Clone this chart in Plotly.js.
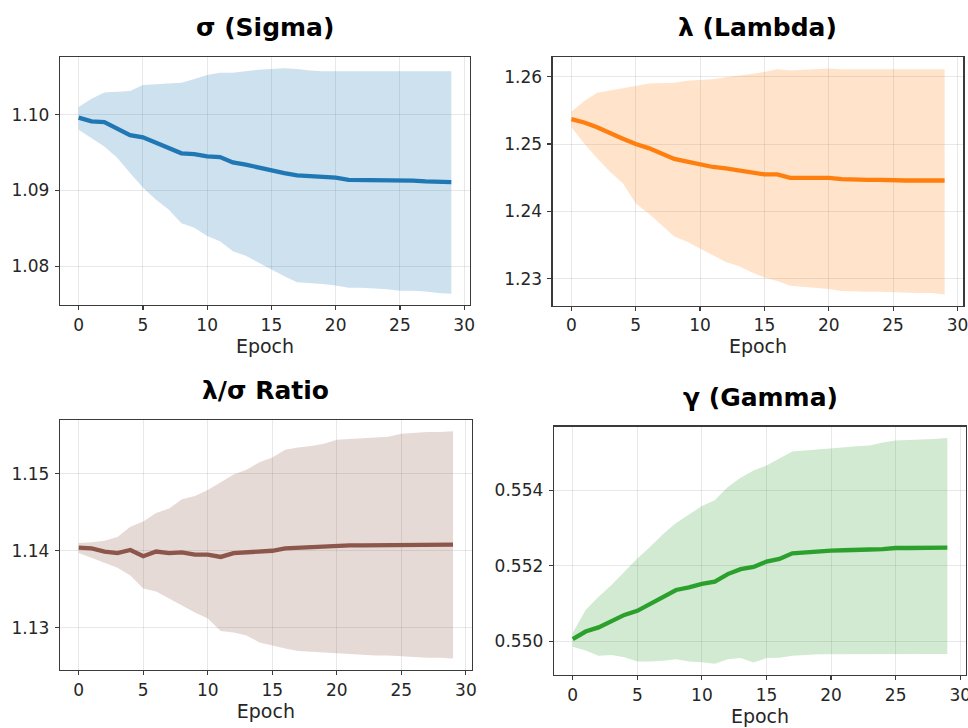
<!DOCTYPE html>
<html>
<head>
<meta charset="utf-8">
<script src="https://cdn.plot.ly/plotly-3.0.1.min.js"></script>
<style>html,body{margin:0;padding:0;background:#fff;}#chart{width:968px;height:728px;}</style>
</head>
<body>
<div id="chart"></div>
<script>
const epochs = Array.from({length: 30}, (_, i) => i);

const sigmaMean = [1.0996,1.0991,1.0990,1.0981,1.0973,1.0970,1.0963,1.0957,1.0949,1.0948,1.0945,1.0944,1.0937,1.0934,1.0930,1.0926,1.0923,1.0920,1.0919,1.0918,1.0917,1.0914,1.0914,1.0914,1.0914,1.0913,1.0913,1.0912,1.0912,1.0911];
const sigmaUpper = [1.1010,1.1021,1.1029,1.1030,1.1031,1.1039,1.1040,1.1041,1.1042,1.1047,1.1052,1.1055,1.1055,1.1057,1.1059,1.1060,1.1061,1.1060,1.1058,1.1057,1.1057,1.1057,1.1057,1.1057,1.1057,1.1057,1.1057,1.1057,1.1057,1.1057];
const sigmaLower = [1.0980,1.0969,1.0958,1.0943,1.0923,1.0904,1.0888,1.0875,1.0857,1.0851,1.0840,1.0833,1.0820,1.0814,1.0805,1.0796,1.0787,1.0779,1.0778,1.0777,1.0775,1.0772,1.0772,1.0771,1.0770,1.0768,1.0768,1.0767,1.0765,1.0764];

const lambdaMean = [1.2537,1.2532,1.2525,1.2516,1.2508,1.2500,1.2494,1.2486,1.2478,1.2474,1.2470,1.2466,1.2464,1.2461,1.2457,1.2455,1.2455,1.2450,1.2450,1.2450,1.2450,1.2448,1.2447,1.2447,1.2447,1.2446,1.2446,1.2446,1.2446,1.2446];
const lambdaUpper = [1.2548,1.2564,1.2576,1.2579,1.2583,1.2586,1.2590,1.2591,1.2591,1.2594,1.2595,1.2596,1.2599,1.2601,1.2604,1.2607,1.2611,1.2609,1.2610,1.2611,1.2612,1.2611,1.2611,1.2611,1.2611,1.2611,1.2611,1.2611,1.2611,1.2611];
const lambdaLower = [1.2525,1.2501,1.2479,1.2459,1.2442,1.2412,1.2397,1.2380,1.2363,1.2355,1.2345,1.2335,1.2325,1.2319,1.2310,1.2302,1.2297,1.2290,1.2289,1.2287,1.2285,1.2282,1.2282,1.2281,1.2281,1.2280,1.2280,1.2279,1.2279,1.2277];

const ratioMean = [1.1404,1.1403,1.1399,1.1397,1.1401,1.1393,1.1399,1.1397,1.1398,1.1395,1.1395,1.1392,1.1397,1.1398,1.1399,1.1400,1.1403,1.1404,1.1405,1.1406,1.1407,1.1407,1.1407,1.1407,1.1407,1.1407,1.1408,1.1408,1.1408,1.1408];
const ratioUpper = [1.1410,1.1411,1.1413,1.1418,1.1431,1.1438,1.1449,1.1455,1.1467,1.1471,1.1479,1.1489,1.1499,1.1505,1.1515,1.1521,1.1531,1.1534,1.1536,1.1539,1.1544,1.1545,1.1546,1.1547,1.1548,1.1552,1.1553,1.1554,1.1554,1.1555];
const ratioLower = [1.1397,1.1390,1.1384,1.1378,1.1368,1.1351,1.1347,1.1338,1.1329,1.1320,1.1312,1.1296,1.1294,1.1290,1.1281,1.1277,1.1273,1.1270,1.1269,1.1268,1.1267,1.1266,1.1265,1.1264,1.1264,1.1263,1.1262,1.1261,1.1261,1.1260];

const gammaMean = [0.55006,0.55026,0.55037,0.55052,0.55070,0.55081,0.55099,0.55116,0.55136,0.55143,0.55152,0.55158,0.55178,0.55191,0.55197,0.55211,0.55218,0.55233,0.55236,0.55238,0.55240,0.55241,0.55241,0.55243,0.55244,0.55247,0.55247,0.55247,0.55247,0.55248];
const gammaUpper = [0.55022,0.55083,0.55118,0.55149,0.55184,0.55219,0.55250,0.55284,0.55313,0.55335,0.55358,0.55373,0.55408,0.55433,0.55452,0.55465,0.55483,0.55502,0.55505,0.55508,0.55511,0.55513,0.55516,0.55518,0.55526,0.55531,0.55532,0.55533,0.55535,0.55538];
const gammaLower = [0.54986,0.54976,0.54962,0.54964,0.54958,0.54947,0.54947,0.54949,0.54953,0.54947,0.54945,0.54941,0.54953,0.54956,0.54944,0.54956,0.54957,0.54962,0.54964,0.54966,0.54967,0.54967,0.54967,0.54967,0.54967,0.54967,0.54967,0.54967,0.54967,0.54967];

const titles = ['σ (Sigma)', 'λ (Lambda)', 'λ/σ Ratio', 'γ (Gamma)'];
const yTicks = [[1.08,1.09,1.10],[1.23,1.24,1.25,1.26],[1.13,1.14,1.15],[0.550,0.552,0.554]];
const yTickText = [['1.08','1.09','1.10'],['1.23','1.24','1.25','1.26'],['1.13','1.14','1.15'],['0.550','0.552','0.554']];

const panels = [
  {mean: sigmaMean, up: sigmaUpper, lo: sigmaLower, color: '#1f77b4', fill: 'rgba(31,119,180,0.22)'},
  {mean: lambdaMean, up: lambdaUpper, lo: lambdaLower, color: '#ff7f0e', fill: 'rgba(255,127,14,0.22)'},
  {mean: ratioMean, up: ratioUpper, lo: ratioLower, color: '#8c564b', fill: 'rgba(140,86,75,0.22)'},
  {mean: gammaMean, up: gammaUpper, lo: gammaLower, color: '#2ca02c', fill: 'rgba(44,160,44,0.22)'}
];

const xDomains = [[0.062,0.4855],[0.571,0.9951],[0.062,0.4873],[0.5723,0.998]];
const yDomains = [[0.581,0.9217],[0.5801,0.9213],[0.0797,0.4231],[0.0728,0.4139]];

const traces = [];
const layout = {
  width: 968, height: 728,
  margin: {l:0, r:0, t:0, b:0},
  paper_bgcolor: '#ffffff', plot_bgcolor: '#ffffff',
  showlegend: false,
  font: {family: 'DejaVu Sans', color: '#262626', size: 17},
  annotations: []
};

panels.forEach((p, i) => {
  const n = i + 1;
  const xa = n === 1 ? 'x' : 'x' + n;
  const ya = n === 1 ? 'y' : 'y' + n;
  const xs = epochs.concat(epochs.slice().reverse());
  const ys = p.up.concat(p.lo.slice().reverse());
  traces.push({x: xs, y: ys, xaxis: xa, yaxis: ya, type: 'scatter', mode: 'lines',
    fill: 'toself', fillcolor: p.fill, line: {width: 0, color: p.fill}, hoverinfo: 'skip'});
  traces.push({x: epochs, y: p.mean, xaxis: xa, yaxis: ya, type: 'scatter', mode: 'lines',
    line: {color: p.color, width: 4.3}});

  const all = p.up.concat(p.lo);
  const mn = Math.min(...all), mx = Math.max(...all);
  const pad = (mx - mn) * 0.05;

  const axCommon = {showline: true, mirror: true, linecolor: '#3a3a3a', linewidth: 1.3,
    showgrid: true, gridcolor: 'rgba(0,0,0,0.09)', gridwidth: 1, zeroline: false,
    ticks: 'outside', ticklen: 4, tickwidth: 1.2, tickcolor: '#3a3a3a',
    ticklabeloverflow: 'allow',
    tickfont: {family: 'DejaVu Sans', size: 17, color: '#262626'}};

  layout['xaxis' + (n === 1 ? '' : n)] = Object.assign({}, axCommon, {
    domain: xDomains[i], anchor: ya, range: [-1.45, 30.45],
    tickvals: [0,5,10,15,20,25,30], ticktext: ['0','5','10','15','20','25','30'],
    title: {text: 'Epoch', font: {family: 'DejaVu Sans', size: 19, color: '#262626'}, standoff: 4}
  });
  layout['yaxis' + (n === 1 ? '' : n)] = Object.assign({}, axCommon, {
    domain: yDomains[i], anchor: xa, range: [mn - pad, mx + pad],
    tickvals: yTicks[i], ticktext: yTickText[i], ticklabelstandoff: 2
  });

  layout.annotations.push({
    text: '<b>' + titles[i] + '</b>', xref: 'paper', yref: 'paper',
    x: (xDomains[i][0] + xDomains[i][1]) / 2, y: yDomains[i][1], yshift: 13,
    xanchor: 'center', yanchor: 'bottom', showarrow: false,
    font: {family: 'DejaVu Sans', size: 25, color: '#000'}
  });
});

Plotly.newPlot('chart', traces, layout, {displayModeBar: false, staticPlot: true});
</script>
</body>
</html>
